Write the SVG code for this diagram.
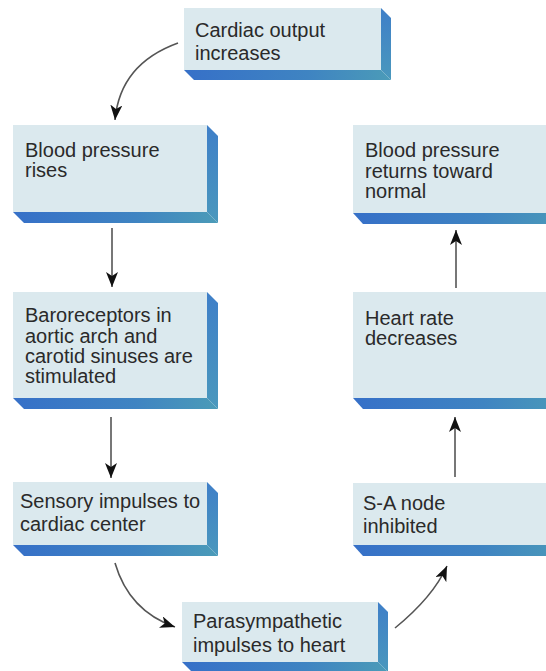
<svg xmlns="http://www.w3.org/2000/svg" width="546" height="671" viewBox="0 0 546 671">
  <defs>
    <linearGradient id="band" x1="0" y1="0" x2="1" y2="0">
      <stop offset="0" stop-color="#3670c8"/>
      <stop offset="0.6" stop-color="#3f84c2"/>
      <stop offset="1" stop-color="#4b9bb8"/>
    </linearGradient>
    <linearGradient id="side" x1="0" y1="0" x2="0" y2="1">
      <stop offset="0" stop-color="#3f7fc8"/>
      <stop offset="1" stop-color="#4a98bd"/>
    </linearGradient>
    <marker id="ah" markerUnits="userSpaceOnUse" markerWidth="16" markerHeight="12" viewBox="0 0 16 12" refX="15" refY="6" orient="auto">
      <path d="M0,0 L15,6 L0,12 L4,6 z" fill="#111"/>
    </marker>
  </defs>
  <style>
    .face { fill: #dbe9ee; }
    .band { fill: url(#band); }
    .side { fill: url(#side); }
    text { font-family: "Liberation Sans", Arial, sans-serif; font-size: 20px; fill: #2a2a2a; }
    .conn { fill: none; stroke: #555; stroke-width: 1.6; marker-end: url(#ah); }
  </style>
  <rect width="546" height="671" fill="#ffffff"/>

  <g id="cardiac-output">
    <polygon class="side" points="381,8 391,18 391,80 381,70"/>
    <polygon class="band" points="184,70 381,70 391,80 194,80"/>
    <rect class="face" x="184" y="8" width="197" height="62"/>
    <text x="195" y="37">Cardiac output</text>
    <text x="195" y="60">increases</text>
  </g>

  <g id="bp-rises">
    <polygon class="side" points="207,125 218,136 218,223 207,212"/>
    <polygon class="band" points="13,212 207,212 218,223 24,223"/>
    <rect class="face" x="13" y="125" width="194" height="87"/>
    <text x="25" y="157">Blood pressure</text>
    <text x="25" y="177">rises</text>
  </g>

  <g id="baroreceptors">
    <polygon class="side" points="207,292 218,303 218,409 207,398"/>
    <polygon class="band" points="13,398 207,398 218,409 24,409"/>
    <rect class="face" x="13" y="292" width="194" height="106"/>
    <text x="25" y="322">Baroreceptors in</text>
    <text x="25" y="343">aortic arch and</text>
    <text x="25" y="363">carotid sinuses are</text>
    <text x="25" y="383">stimulated</text>
  </g>

  <g id="sensory">
    <polygon class="side" points="207,482 218,493 218,556 207,545"/>
    <polygon class="band" points="13,545 207,545 218,556 24,556"/>
    <rect class="face" x="13" y="482" width="194" height="63"/>
    <text x="20" y="508">Sensory impulses to</text>
    <text x="20" y="531">cardiac center</text>
  </g>

  <g id="parasympathetic">
    <polygon class="side" points="378,602 388,612 388,672 378,662"/>
    <polygon class="band" points="182,662 378,662 388,672 192,672"/>
    <rect class="face" x="182" y="602" width="196" height="60"/>
    <text x="193" y="628">Parasympathetic</text>
    <text x="193" y="652">impulses to heart</text>
  </g>

  <g id="sa-node">
    <polygon class="band" points="353,545 560,545 570,556 363,556"/>
    <rect class="face" x="353" y="483" width="207" height="62"/>
    <text x="363" y="510">S-A node</text>
    <text x="363" y="533">inhibited</text>
  </g>

  <g id="heart-rate">
    <polygon class="band" points="353,398 560,398 570,409 363,409"/>
    <rect class="face" x="353" y="292" width="207" height="106"/>
    <text x="365" y="325">Heart rate</text>
    <text x="365" y="345">decreases</text>
  </g>

  <g id="bp-normal">
    <polygon class="band" points="353,213 560,213 570,224 363,224"/>
    <rect class="face" x="353" y="125" width="207" height="88"/>
    <text x="365" y="157">Blood pressure</text>
    <text x="365" y="178">returns toward</text>
    <text x="365" y="198">normal</text>
  </g>

  <g id="connectors">
    <path class="conn" d="M178,43 Q120,64 115,120"/>
    <path class="conn" d="M112,228 L112,287"/>
    <path class="conn" d="M111,417 L111,478"/>
    <path class="conn" d="M115,563 Q129,611 175,627"/>
    <path class="conn" d="M395,628 Q433,597 447,566"/>
    <path class="conn" d="M455,477 L455,417"/>
    <path class="conn" d="M456,288 L456,230"/>
  </g>
</svg>
